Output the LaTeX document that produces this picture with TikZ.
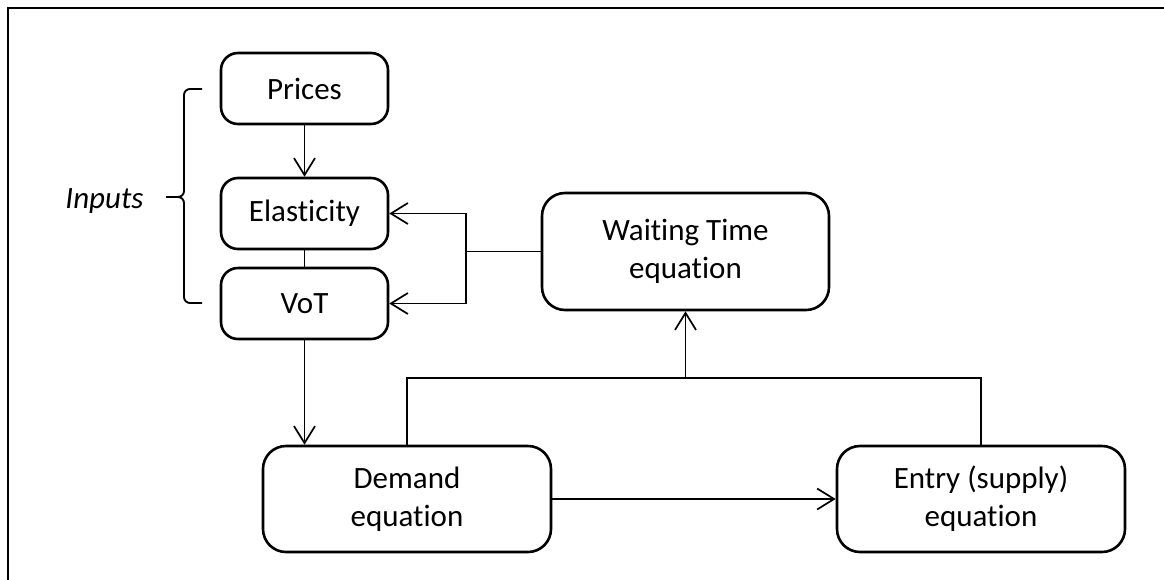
\documentclass[tikz,border=0pt]{standalone}
\usepackage{fontspec}
\setmainfont{Carlito}[Ligatures=NoCommon]
\usetikzlibrary{arrows.meta}

\tikzset{
  box/.style={draw, line width=2.6pt, align=center, inner sep=0pt,
    font=\fontsize{31}{38}\selectfont},
  smallbox/.style={box, rounded corners=17pt, minimum width=167pt, minimum height=71pt},
  bigbox/.style={box, rounded corners=23pt, minimum width=288pt, minimum height=106pt},
  link/.style={line width=1.7pt},
  arr/.style={link, -{Straight Barb[length=17pt,width=21pt,line width=1.7pt]}},
  bracket/.style={line width=1.9pt, rounded corners=6pt},
}

\begin{document}
\begin{tikzpicture}[x=1pt, y=-1pt]
  \useasboundingbox (0,0) rectangle (1164,579);

  % outer frame (top and left edges)
  \draw[line width=2.4pt] (8,590) -- (8,8) -- (1175,8);

  % input boxes
  \node[smallbox] (prices) at (304.5,88.5) {Prices};
  \node[smallbox] (elast)  at (304.5,213.5) {Elasticity};
  \node[smallbox] (vot)    at (304.5,303.5) {VoT};

  % equation boxes
  \node[bigbox, minimum height=117pt, minimum width=287pt] (wait) at (685.5,251.5) {Waiting Time\\equation};
  \node[bigbox] (demand) at (407,499) {Demand\\equation};
  \node[bigbox] (entry)  at (981,499) {Entry (supply)\\equation};

  % brace grouping the inputs
  \coordinate (tip) at (166,197);
  \draw[bracket] (202,89) -- (184,89) -- (184,197) -- (tip);
  \draw[bracket] (202,303) -- (184,303) -- (184,197) -- (tip);
  \node[anchor=base, font=\fontsize{31}{38}\selectfont\itshape] (inputs) at (104.5,208) {Inputs};

  % connectors
  \draw[arr] (prices.south) -- (elast.north);
  \draw[link] (elast.south) -- (vot.north);

  \draw[link] (wait.west) -- (466,251.5) coordinate (split);
  \draw[arr] (split) |- (elast.east);
  \draw[arr] (split) |- (vot.east);

  \draw[arr] (vot.south) -- (vot.south |- demand.north);
  \draw[arr] (demand.east) -- (entry.west);

  \draw[link] (demand.north) -- (407,378) coordinate (top) -| (entry.north);
  \draw[arr] (wait.south |- top) -- (wait.south);
\end{tikzpicture}
\end{document}
